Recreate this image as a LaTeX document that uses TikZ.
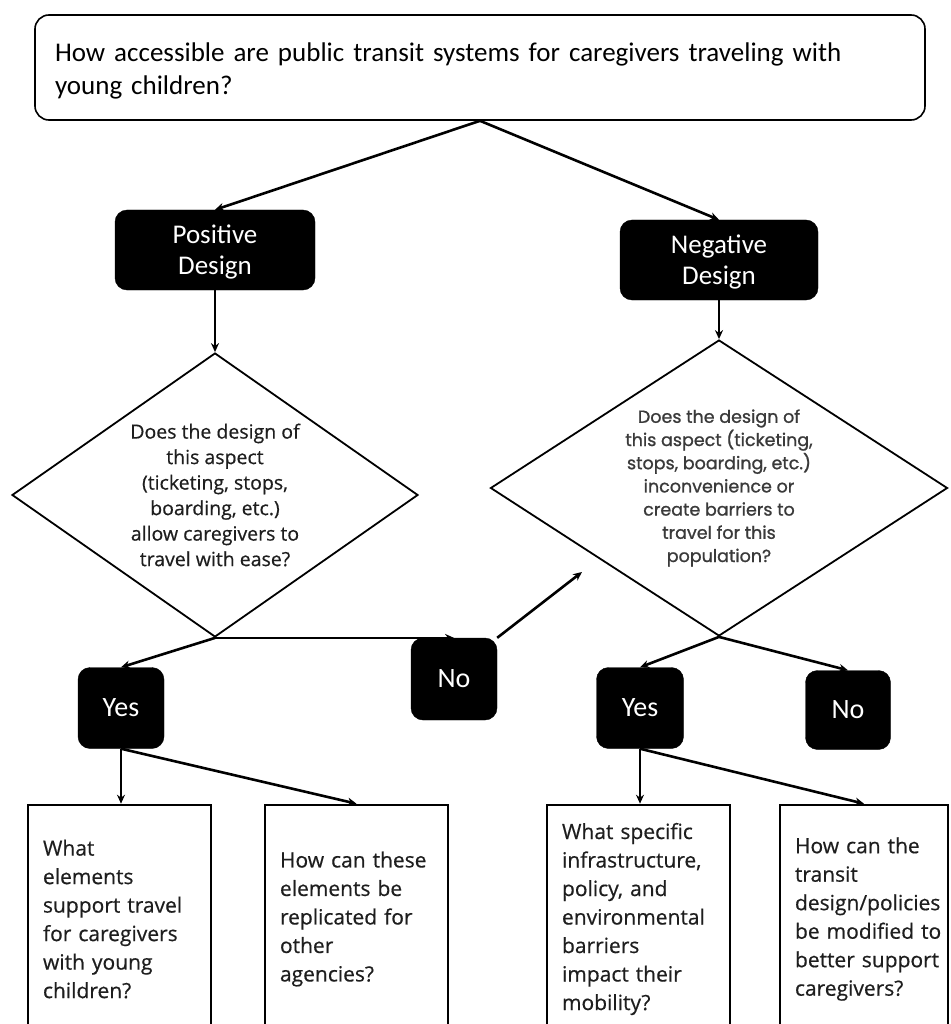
\documentclass[tikz,border=0pt]{standalone}
\usepackage{fontspec}
\setmainfont{Carlito}
\newfontfamily\osans[FakeBold=0.5]{Open Sans}
\newfontfamily\popfont[FakeBold=1]{Poppins}
\usetikzlibrary{shapes.geometric,arrows.meta}
\definecolor{txtgray}{HTML}{1E1E1E}
\definecolor{txtgrayb}{HTML}{3A3A3A}
\begin{document}
\begin{tikzpicture}[x=1pt,y=-1pt,
  conn/.style={line width=2.6pt,-{Stealth[length=9pt,width=8pt]}},
  topbox/.style={rectangle,draw,line width=1.6pt,rounded corners=14pt,minimum width=890pt,minimum height=105pt,inner sep=0pt},
  toptext/.style={text width=850pt,inner sep=0pt,align=left,font=\fontsize{27}{33}\selectfont},
  blackbox/.style={rectangle,rounded corners=12pt,fill=black,draw=black,text=white,align=center,inner sep=0pt},
  catfont/.style={font=\fontsize{27}{31}\selectfont,text depth=0pt},
  ynfont/.style={font=\fontsize{28}{32}\selectfont},
  decision/.style={diamond,draw,line width=1.8pt,inner sep=0pt},
  ltext/.style={align=center,text=txtgray,inner sep=0pt,font=\osans\fontsize{19.5}{25.5}\selectfont},
  rtext/.style={align=center,text=txtgrayb,inner sep=0pt,font=\popfont\fontsize{17.5}{23.2}\selectfont},
  qbox/.style={rectangle,draw,line width=2.6pt,minimum height=228pt,inner xsep=15pt,align=left,text=txtgray,font=\osans\fontsize{21}{28.5}\selectfont}
]
\useasboundingbox (0,0) rectangle (950,1024);
\clip (0,0) rectangle (950,1024);
\fill[white] (0,0) rectangle (950,1024);

% top question
\node[topbox,label={[toptext,yshift=-3.5pt]center:How accessible are public transit systems for caregivers traveling with\\young children?}] (q) at (480,67.5) {};

% categories
\node[blackbox,catfont,minimum width=200pt,minimum height=80pt] (pos) at (215,250) {Positive\\Design};
\node[blackbox,catfont,minimum width=198pt,minimum height=80pt] (neg) at (719,260) {Negative\\Design};

% decisions
\node[decision,minimum width=406pt,minimum height=284pt,
  label={[ltext]center:Does the design of\\this aspect\\(ticketing, stops,\\boarding, etc.)\\allow caregivers to\\travel with ease?}] (d1) at (215,495) {};
\node[decision,minimum width=457pt,minimum height=296pt,
  label={[rtext]center:Does the design of\\this aspect (ticketing,\\stops, boarding, etc.)\\inconvenience or\\create barriers to\\travel for this\\population?}] (d2) at (719,488) {};

% yes / no
\node[blackbox,ynfont,minimum width=86pt,minimum height=81pt] (yes1) at (121,708) {Yes};
\node[blackbox,ynfont,minimum width=86pt,minimum height=82pt] (no1) at (454,679) {No};
\node[blackbox,ynfont,minimum width=87pt,minimum height=81pt] (yes2) at (640,708) {Yes};
\node[blackbox,ynfont,minimum width=85pt,minimum height=79pt] (no2) at (848,710) {No};

% bottom questions
\node[qbox,text width=153pt] (b1) at (119.5,919) {What\\elements\\support travel\\for caregivers\\with young\\children?};
\node[qbox,text width=153pt] (b2) at (356.5,919) {How can these\\elements be\\replicated for\\other\\agencies?};
\node[qbox,text width=153pt] (b3) at (638.5,919) {What specific\\infrastructure,\\policy, and\\environmental\\barriers\\impact their\\mobility?};
\node[qbox,text width=138pt] (b4) at (864,919) {\mbox{How can the}\\\mbox{transit}\\\mbox{design/policies}\\\mbox{be modified to}\\\mbox{better support}\\\mbox{caregivers?}};

\coordinate (nx) at (582,572);

% connectors
\draw[conn] (q.south) -- (pos.north);
\draw[conn] (q.south) -- (neg.north);
\draw[conn] (pos.south) -- (d1.north);
\draw[conn] (neg.south) -- (d2.north);
\draw[conn] (d1.south) -- (yes1.north);
\draw[conn] (d1.south) -- (d1.south -| no1.north);
\draw[conn] (no1.north east) -- (nx);
\draw[conn] (d2.south) -- (yes2.north);
\draw[conn] (d2.south) -- (no2.north);
\draw[conn] (yes1.south) -- (yes1.south |- b1.north);
\draw[conn] (yes1.south) -- (b2.north);
\draw[conn] (yes2.south) -- (yes2.south |- b3.north);
\draw[conn] (yes2.south) -- (b4.north);
\end{tikzpicture}
\end{document}
